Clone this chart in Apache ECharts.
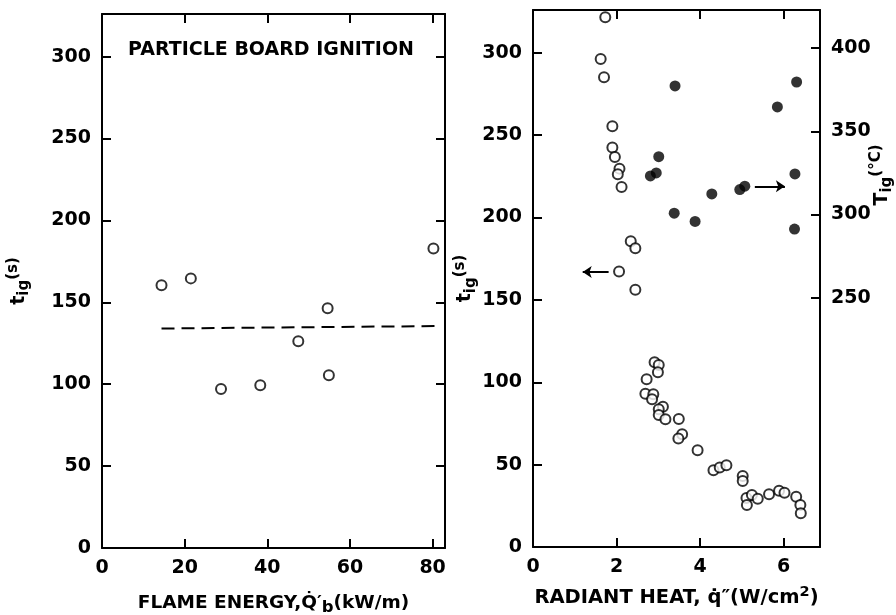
<html lang="en">
<head>
<meta charset="UTF-8">
<title>Particle board ignition</title>
<script src="https://cdn.jsdelivr.net/npm/echarts@6/dist/echarts.min.js"></script>
</head>
<body style="margin:0;background:#fff">
<div id="main" style="width:896px;height:615px;"></div>
<script type="text/javascript">
// left panel: ignition time vs flame energy
var flameEnergy = [14.4, 21.5, 28.8, 38.3, 47.5, 54.6, 54.9, 80.2];
var flameTig = [160.4, 164.6, 97.0, 99.4, 126.2, 146.3, 105.5, 182.9];
var meanX = [14.4, 81.7];
var meanTig = [134, 135.5];

// right panel: ignition time (open) and surface temperature (filled) vs radiant heat
var radiantQ = [1.73, 1.62, 1.70, 1.90, 1.90, 1.96, 2.07, 2.03, 2.12, 2.34, 2.45, 2.06, 2.45,
    2.91, 3.01, 2.99, 2.72, 2.69, 2.88, 2.85, 3.11, 3.01, 3.01, 3.17, 3.49, 3.57, 3.48, 3.94,
    4.32, 4.47, 4.63, 5.02, 5.02, 5.11, 5.12, 5.24, 5.38, 5.65, 5.89, 6.02, 6.30, 6.40, 6.41];
var radiantTig = [321.6, 296.3, 285.2, 255.4, 242.5, 236.8, 229.7, 226.3, 218.6, 185.6, 181.4, 167.2, 156.2,
    112.1, 110.5, 106.1, 101.8, 93.1, 92.7, 89.7, 85.2, 83.6, 80.1, 77.5, 77.7, 68.4, 65.8, 58.7,
    46.6, 48.2, 49.6, 43.1, 40.1, 29.8, 25.5, 31.6, 29.3, 32.0, 34.2, 33.0, 30.5, 25.5, 20.5];
var tempQ = [3.40, 6.31, 5.85, 3.01, 2.81, 2.95, 6.27, 4.95, 5.07, 4.28, 3.38, 3.88, 6.26];
var tempTig = [377.3, 379.7, 364.7, 334.8, 323.2, 325.0, 324.4, 315.0, 317.0, 312.4, 300.8, 295.8, 291.2];
var tempTicks = [250, 300, 350, 400];

// arrows pointing to the axis each series belongs to
var arrowLeft = [[1.81, 167], [1.19, 167]];
var arrowRight = [[5.31, 219], [6.03, 219]];

function pairs(xs, ys) {
    return xs.map(function (x, i) { return [x, ys[i]]; });
}

var font = 'DejaVu Sans';
var tickLabel = {color: '#000', fontFamily: font, fontWeight: 'bold', fontSize: 19, margin: 11};
var tick = {inside: true, length: 9, lineStyle: {color: '#000', width: 2}};
var line = {onZero: false, lineStyle: {color: '#000', width: 2}};
function rich(size) {
    var s = {fontFamily: font, fontWeight: 'bold', color: '#000'};
    return {
        n: Object.assign({fontSize: size, lineHeight: 26}, s),
        sub: Object.assign({fontSize: size - 2, verticalAlign: 'bottom', lineHeight: 12}, s),
        sup: Object.assign({fontSize: size - 5, verticalAlign: 'top', lineHeight: 12}, s),
        t: Object.assign({fontSize: 19, lineHeight: 26}, s),
        tsub: Object.assign({fontSize: 15, verticalAlign: 'bottom', lineHeight: 12}, s),
        tsup: Object.assign({fontSize: 15, verticalAlign: 'top', lineHeight: 14}, s)
    };
}

var openCircle = {color: '#fff', borderColor: '#000', borderWidth: 2};

var myChart = echarts.init(document.getElementById('main'));
var option = {
    animation: false,
    backgroundColor: '#fff',
    grid: [
        {left: 102, top: 14, width: 343, height: 534, outerBoundsMode: 'none'},
        {left: 533, top: 10, width: 287, height: 537, outerBoundsMode: 'none'}
    ],
    xAxis: [
        {
            gridIndex: 0, type: 'value', position: 'bottom', min: 0, max: 83, interval: 20,
            axisLine: line, axisTick: tick, splitLine: {show: false},
            axisLabel: Object.assign({showMaxLabel: false}, tickLabel),
            name: '{n|FLAME ENERGY,Q̇′}{sub|b}{n|(kW/m)}', nameLocation: 'middle', nameGap: 42,
            nameTextStyle: {rich: rich(18.5)}
        },
        {
            gridIndex: 0, type: 'value', position: 'top', min: 0, max: 83, interval: 20,
            axisLine: line, axisTick: tick, axisLabel: {show: false}, splitLine: {show: false}
        },
        {
            gridIndex: 1, type: 'value', position: 'bottom', min: 0, max: 6.87, interval: 2,
            axisLine: line, axisTick: tick, splitLine: {show: false},
            axisLabel: Object.assign({showMaxLabel: false}, tickLabel),
            name: '{n|RADIANT HEAT, q̇″(W/cm}{sup|2}{n|)}', nameLocation: 'middle', nameGap: 38,
            nameTextStyle: {rich: rich(19.5)}
        },
        {
            gridIndex: 1, type: 'value', position: 'top', min: 0, max: 6.87, interval: 2,
            axisLine: line, axisTick: tick, axisLabel: {show: false}, splitLine: {show: false}
        }
    ],
    yAxis: [
        {
            gridIndex: 0, type: 'value', position: 'left', min: 0, max: 326, interval: 50,
            axisLine: line, axisTick: tick, splitLine: {show: false},
            axisLabel: Object.assign({showMaxLabel: false}, tickLabel),
            name: '{t|t}{tsub|ig}{tsup|(s)}', nameLocation: 'middle', nameGap: 70, nameRotate: 90,
            nameTextStyle: {rich: rich(16)}
        },
        {
            gridIndex: 0, type: 'value', position: 'right', min: 0, max: 326, interval: 50,
            axisLine: line, axisTick: tick, axisLabel: {show: false}, splitLine: {show: false}
        },
        {
            gridIndex: 1, type: 'value', position: 'left', min: 0, max: 326, interval: 50,
            axisLine: line, axisTick: tick, splitLine: {show: false},
            axisLabel: Object.assign({showMaxLabel: false}, tickLabel),
            name: '{t|t}{tsub|ig}{tsup|(s)}', nameLocation: 'middle', nameGap: 54, nameRotate: 90,
            nameTextStyle: {rich: rich(16)}
        },
        {
            gridIndex: 1, type: 'value', position: 'right', min: 100, max: 423, interval: 50,
            axisLine: line, splitLine: {show: false},
            axisTick: Object.assign({customValues: tempTicks}, tick),
            axisLabel: Object.assign({customValues: tempTicks}, tickLabel)
        }
    ],
    graphic: [
        {
            type: 'text', x: 271, y: 50,
            style: {text: 'PARTICLE BOARD IGNITION', fill: '#000', font: 'bold 19px "DejaVu Sans"',
                align: 'center', verticalAlign: 'middle'}
        },
        {
            type: 'text', x: 882, y: 175, rotation: Math.PI / 2,
            style: {text: '{t|T}{tsub|ig}{tsup|(°C)}', rich: rich(16), align: 'center', verticalAlign: 'middle'}
        }
    ],
    series: [
        {
            type: 'scatter', xAxisIndex: 0, yAxisIndex: 0, symbol: 'circle', symbolSize: 10,
            itemStyle: openCircle, data: pairs(flameEnergy, flameTig)
        },
        {
            type: 'line', xAxisIndex: 0, yAxisIndex: 0, symbol: 'none',
            lineStyle: {color: '#000', width: 2, type: [13, 7]},
            data: pairs(meanX, meanTig)
        },
        {
            type: 'scatter', xAxisIndex: 2, yAxisIndex: 2, symbol: 'circle', symbolSize: 10,
            itemStyle: openCircle, data: pairs(radiantQ, radiantTig),
            markLine: {
                silent: true, symbol: ['none', 'arrow'], symbolSize: 9,
                lineStyle: {color: '#000', width: 2, type: 'solid'},
                label: {show: false},
                data: [
                    [{coord: arrowLeft[0]}, {coord: arrowLeft[1]}],
                    [{coord: arrowRight[0]}, {coord: arrowRight[1]}]
                ]
            }
        },
        {
            type: 'scatter', xAxisIndex: 2, yAxisIndex: 3, symbol: 'circle', symbolSize: 11,
            itemStyle: {color: '#000'}, data: pairs(tempQ, tempTig)
        }
    ]
};
myChart.setOption(option);
</script>
</body>
</html>
